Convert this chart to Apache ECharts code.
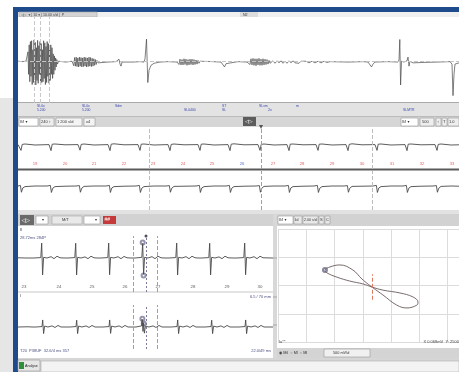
<!DOCTYPE html>
<html><head><meta charset="utf-8">
<script src="https://cdn.jsdelivr.net/npm/echarts@6/dist/echarts.min.js"></script>
<style>html,body{margin:0;padding:0;background:#fff}#c{width:459px;height:372px}</style>
</head><body><div id="c"></div>
<script>
// ---------- DATA ----------
// top overview trace: [sample, mV]
const topTrace = [[0,0.02],[4,0.01],[8,0.02],[9.5,0.0],
[10,0.25],[10.6,-0.3],[11.2,0.42],[11.8,-0.48],[12.4,0.5],[13,-0.35],[13.6,0.52],[14.2,-0.55],[14.8,0.3],[15.4,-0.5],[16,0.54],[16.6,-0.42],[17.2,0.48],[17.8,-0.56],[18.4,0.35],[19,-0.45],[19.6,0.53],[20.2,-0.52],[20.8,0.4],[21.4,-0.3],[22,0.5],[22.6,-0.55],[23.2,0.45],[23.8,-0.5],[24.4,0.3],[25,-0.48],[25.6,0.52],[26.2,-0.4],[26.8,0.47],[27.4,-0.55],[28,0.38],[28.6,-0.5],[29.2,0.5],[29.8,-0.35],[30.4,0.45],[31,-0.52],[31.6,0.3],[32.2,-0.45],[32.8,0.42],[33.4,-0.3],[34,0.35],[34.6,-0.4],[35.2,0.2],[35.8,-0.3],[36.4,0.15],[37,-0.2],[37.6,0.1],[38.2,-0.12],[38.8,0.06],[39.5,-0.05],[40.5,0.02],
[42,0.01],[48,0.0],[54,0.02],
[55,0.06],[55.8,-0.09],[56.6,0.11],[57.4,-0.1],[58.2,0.12],[59,-0.11],[59.8,0.1],[60.6,-0.12],[61.4,0.12],[62.2,-0.1],[63,0.11],[63.8,-0.12],[64.6,0.1],[65.4,-0.11],[66.2,0.12],[67,-0.1],[67.8,0.11],[68.6,-0.12],[69.4,0.1],[70.2,-0.11],[71,0.12],[71.8,-0.1],[72.6,0.11],[73.4,-0.11],[74.2,0.09],[75,-0.1],[75.8,0.08],[76.6,-0.08],[77.4,0.06],[78.2,-0.06],[79,0.04],[80,-0.02],
[81,0.01],[90,0.0],[98,0.01],[100,0.04],[101,0.07],[102,-0.05],[103,-0.1],[104,0.0],[106,0.01],[115,0.0],[122,0.01],[126,0.0],
[127,0.08],[128.5,0.56],[129.8,-0.5],[131,-0.2],[133,-0.08],[136,-0.03],[142,0.0],[150,0.01],[159,0.0],
[160,0.04],[161,-0.06],[162,0.07],[163,-0.07],[164,0.06],[165,-0.07],[166,0.08],[167,-0.06],[168,0.07],[169,-0.08],[170,0.06],[171,-0.07],[172,0.07],[173,-0.06],[174,0.07],[175,-0.07],[176,0.06],[177,-0.06],[178,0.05],[179,-0.05],[180,0.04],[181,-0.03],[182,0.02],
[184,0.0],[195,0.01],[203,0.0],[205,-0.03],[206.5,-0.12],[208,-0.04],[210,0.0],[220,0.01],[229,0.0],
[231,0.04],[232,-0.06],[233,0.08],[234,-0.07],[235,0.09],[236,-0.08],[237,0.08],[238,-0.09],[239,0.08],[240,-0.07],[241,0.09],[242,-0.08],[243,0.07],[244,-0.08],[245,0.08],[246,-0.07],[247,0.07],[248,-0.06],[249,0.06],[250,-0.05],[251,0.04],[252,-0.03],
[255,0.03],[257,-0.03],[259,0.03],[261,-0.02],[263,0.03],[265,-0.03],[267,0.02],[269,-0.03],[271,0.03],[273,-0.02],[275,0.03],[277,-0.02],[279,0.02],[281,-0.03],[283,0.02],[285,-0.02],[288,0.02],[291,-0.02],[294,0.02],[297,-0.02],[300,0.02],[303,-0.02],[306,0.02],[309,-0.01],[312,0.01],
[330,0.0],[345,0.01],[350,0.0],[352,-0.04],[353.5,-0.12],[355,-0.05],[357,0.0],[370,0.01],[380,0.0],
[381,0.05],[381.8,0.55],[382.6,-0.56],[383.5,0.02],[386,0.0],[389,0.03],[390,0.12],[391,-0.1],[392,0.02],[395,-0.02],[405,-0.01],[420,0.0],[432,0.01],[434,-0.05],[435,-0.82],[436,-0.3],[437,-0.05],[441,-0.02]];
const topCursors = [16, 22, 31];

// middle panel, two leads
const midTrace1 = [[0,0.02],[1,0.1],[2,0.12],[3,-0.27],[4.2,0.03],[7,0.05],[17,0.0],
[31,0.02],[32.2,0.11],[33,-0.28],[34.2,0.04],[37,0.05],[47,0.01],
[60,0.02],[61.2,0.12],[62,-0.26],[63.2,0.03],[66,0.05],[76,0.0],
[90,0.02],[91.2,0.12],[92,-0.28],[93.2,0.04],[96,0.06],[106,0.01],
[120,0.02],[121.2,0.11],[122,-0.27],[123.2,0.04],[126,0.05],[136,0.0],
[150,0.02],[151.2,0.12],[152,-0.28],[153.2,0.03],[156,0.05],[166,0.01],
[180,0.02],[181.2,0.12],[182,-0.27],[183.2,0.04],[186,0.05],[196,0.0],
[210,0.02],[211.2,0.11],[212,-0.28],[213.2,0.04],[216,0.06],[226,0.01],
[240,0.02],[241.2,0.12],[242,-0.27],[243.2,0.03],[246,0.05],[256,0.0],
[269,0.02],[270.2,0.12],[271,-0.28],[272.2,0.04],[275,0.05],[285,0.01],
[298,0.02],[299.2,0.11],[300,-0.27],[301.2,0.04],[304,0.05],[314,0.0],
[328,0.02],[329.2,0.12],[330,-0.28],[331.2,0.03],[334,0.06],[344,0.01],
[357,0.02],[358.2,0.12],[359,-0.27],[360.2,0.04],[363,0.05],[373,0.0],
[387,0.02],[388.2,0.11],[389,-0.28],[390.2,0.04],[393,0.05],[403,0.01],
[417,0.02],[418.2,0.12],[419,-0.27],[420.2,0.03],[423,0.05],[433,0.0],[441,0.01]];
const midTrace2 = [[0,0.03],[2.4,0.06],[3.4,-0.29],[4.8,-0.07],[7,0.0],[17,0.03],
[29,0.03],[32.4,0.06],[33.4,-0.3],[34.8,-0.08],[37,0.0],[47,0.02],
[58,0.03],[61.4,0.05],[62.4,-0.29],[63.8,-0.08],[66,0.01],[76,0.03],
[88,0.03],[91.4,0.06],[92.4,-0.3],[93.8,-0.07],[96,0.0],[106,0.02],
[118,0.03],[121.4,0.06],[122.4,-0.3],[123.8,-0.08],[126,0.0],[136,0.03],
[148,0.03],[151.4,0.05],[152.4,-0.29],[153.8,-0.08],[156,0.01],[166,0.02],
[178,0.03],[181.4,0.06],[182.4,-0.3],[183.8,-0.07],[186,0.0],[196,0.03],
[208,0.03],[211.4,0.06],[212.4,-0.3],[213.8,-0.08],[216,0.0],[226,0.02],
[238,0.03],[241.4,0.05],[242.4,-0.29],[243.8,-0.08],[246,0.01],[256,0.03],
[267,0.03],[270.4,0.06],[271.4,-0.3],[272.8,-0.07],[275,0.0],[285,0.02],
[296,0.03],[299.4,0.06],[300.4,-0.3],[301.8,-0.08],[304,0.0],[314,0.03],
[326,0.03],[329.4,0.05],[330.4,-0.29],[331.8,-0.08],[334,0.01],[344,0.02],
[355,0.03],[358.4,0.06],[359.4,-0.3],[360.8,-0.07],[363,0.0],[373,0.03],
[385,0.03],[388.4,0.06],[389.4,-0.3],[390.8,-0.08],[393,0.0],[403,0.02],
[415,0.03],[418.4,0.05],[419.4,-0.29],[420.8,-0.08],[423,0.01],[433,0.03],[441,0.02]];
const midBeatNumbers = [19,20,21,22,23,24,25,26,27,28,29,30,31,32,33];
const midBeatNumberX = [17,47,76,106,135,165,194,224,255,284,314,344,374,404,434];
const midSelectedBeat = 26;
const midCursorsGray = [131, 354];
const midCursorsRed = [243];

// bottom-left zoomed panel, two leads
const botTrace1 = [[0,0.01],[8,0.0],[12,0.0],[14,0.07],[16,0.0],[22.8,0.02],[23.7,0.68],[24.6,-0.77],[25.6,0.03],[29,0.0],[33,0.06],[36,-0.03],[39,0.08],[42,0.01],
[46,0.0],[48,0.07],[50,0.0],[56.8,0.02],[57.7,0.67],[58.6,-0.77],[59.6,0.03],[63,0.0],[67,0.05],[70,-0.03],[73,0.08],[76,0.01],
[79,0.0],[81,0.07],[83,0.0],[89.8,0.02],[90.7,0.68],[91.6,-0.76],[92.6,0.03],[96,0.0],[100,0.06],[103,-0.03],[106,0.07],[109,0.01],
[113,0.0],[115,0.08],[117,0.0],[123.8,0.03],[124.7,0.66],[125.6,-0.74],[126.6,0.03],[130,0.0],[134,0.06],[137,-0.03],[140,0.08],[143,0.01],
[147,0.0],[149,0.07],[151,0.0],[157.8,0.02],[158.7,0.68],[159.6,-0.77],[160.6,0.03],[164,0.0],[168,0.06],[171,-0.03],[174,0.08],[177,0.01],
[180,0.0],[182,0.07],[184,0.0],[190.8,0.02],[191.7,0.67],[192.6,-0.77],[193.6,0.03],[197,0.0],[201,0.05],[204,-0.03],[207,0.08],[210,0.01],
[215,0.0],[217,0.07],[219,0.0],[225.8,0.02],[226.7,0.68],[227.6,-0.76],[228.6,0.03],[232,0.0],[236,0.06],[239,-0.03],[242,0.08],[245,0.01],[255,0.0]];
const botTrace2 = [[0,0.0],[10,0.01],[14,0.0],[16,0.06],[18,0.0],[24,0.02],[24.7,0.32],[25.6,-0.3],[26.6,0.04],[30,0.0],[34,0.05],[37,-0.02],[40,0.07],[43,0.0],
[48,0.0],[50,0.06],[52,0.0],[58,0.02],[58.7,0.31],[59.6,-0.3],[60.6,0.04],[64,0.0],[68,0.05],[71,-0.02],[74,0.07],[77,0.0],
[81,0.0],[83,0.06],[85,0.0],[91,0.02],[91.7,0.32],[92.6,-0.29],[93.6,0.04],[97,0.0],[101,0.05],[104,-0.02],[107,0.07],[110,0.0],
[114,0.0],[116,0.06],[118,0.0],[123.5,0.05],[124.2,0.35],[125,-0.2],[125.6,0.2],[126.4,-0.28],[127.4,0.04],[131,0.0],[135,0.05],[138,-0.02],[141,0.07],[144,0.0],
[149,0.0],[151,0.06],[153,0.0],[159,0.02],[159.7,0.32],[160.6,-0.3],[161.6,0.04],[165,0.0],[169,0.05],[172,-0.02],[175,0.07],[178,0.0],
[183,0.0],[185,0.06],[187,0.0],[193,0.02],[193.7,0.31],[194.6,-0.3],[195.6,0.04],[199,0.0],[203,0.05],[206,-0.02],[209,0.07],[212,0.0],
[217,0.0],[219,0.06],[221,0.0],[227,0.02],[227.7,0.32],[228.6,-0.3],[229.6,0.04],[233,0.0],[237,0.05],[240,-0.02],[243,0.07],[246,0.0],[255,0.0]];
const botMarks1 = [[124.7,0.7],[125.6,-0.8]];
const botMarks2 = [[124.4,0.38],[125.8,0.16]];
const botBeatNumbers = [23,24,25,26,27,28,29,30];
const botBeatNumberX = [6,41,74,107,140,175,209,242];
const botCursorsRed = [115, 139];
const botCursorDash = [128];

// vector loop (lead I vs lead II)
const loopX = [3.32,2.97,2.65,2.19,1.84,1.66,1.73,2.08,2.54,3.00,3.32,3.71,4.31,4.77,4.95,4.91,4.56,4.20,3.71,3.36,3.32];
const loopY = [1.95,2.23,2.55,2.73,2.66,2.55,2.45,2.30,2.16,2.06,1.95,1.84,1.74,1.60,1.42,1.31,1.21,1.31,1.67,1.92,1.95];
const loopCenterMark = [[3.32,1.5],[3.32,2.4]];

// ---------- CHART ----------
const FONT = '"Liberation Sans", "DejaVu Sans", sans-serif';
const TRACE = '#4a4a4a';
function R(x,y,w,h,fill,stroke,z){return {type:'rect',z:z==null?-10:z,shape:{x,y,width:w,height:h},style:{fill,stroke:stroke||null,lineWidth:stroke?0.6:0}};}
function T(x,y,s,size,fill,opt){return {type:'text',z:100,x,y,style:Object.assign({text:s,font:(size||5)+'px '+FONT,fill:fill||'#333',align:'left',verticalAlign:'middle'},opt||{})};}
function L(x1,y1,x2,y2,c,w){return {type:'line',z:-5,shape:{x1,y1,x2,y2},style:{stroke:c,lineWidth:w||1}};}

const BLUE='#1e4b8c', LBL='#3a46b0';
const graphic = [
  R(0,98,13,274,'#e6e6e6'),
  R(13,7,446,5,BLUE), R(13,7,5,365,BLUE),
  R(18,12,441,5,'#f0f0f0'), R(19,12,78,5,'#d4d4d4','#aaa'),
  T(21,14.6,'◁▷  ▾ | 10 ▾ | 10.00 s/d |  P',3.6,'#444'),
  R(240,12,18,5,'#dcdcdc'), T(243,14.6,'N2',3.6,'#333'),
  R(18,17,441,86,'#ffffff'), L(18,102.5,459,102.5,'#aaa',1),
  R(18,103,441,13,'#e3e3e3'),
  T(37,106.5,'SL0x',3.4,LBL), T(37,110.5,'5.200',3.4,LBL),
  T(82,106.5,'SL0x',3.4,LBL), T(82,110.5,'5.200',3.4,LBL),
  T(115,106,'Sdm',3.4,LBL), T(184,110,'SL0400',3.4,LBL),
  T(222,106.5,'ST',3.4,LBL), T(222,110.5,'SL',3.4,LBL),
  T(259,106,'SLvm',3.4,LBL), T(268,109.5,'2x',3.6,LBL), T(296,106,'m',3.6,LBL),
  T(403,110,'SLMTR',3.4,LBL),
  R(18,116,441,11,'#d6d6d6'), L(18,116.5,459,116.5,'#bbb',1),
  R(19,118,19,8,'#fff','#999',-9), T(20,122,'II/I ▾',4,'#333'),
  R(40,118,14,8,'#eee','#999',-9), T(41,122,'240 ↕',4,'#333'),
  R(56,118,26,8,'#f4f4f4','#999',-9), T(57,122,'1 200 s/d',4,'#333'),
  R(84,118,11,8,'#f4f4f4','#999',-9), T(86,122,'x4',4,'#333'),
  R(243,117,13,9,'#5c5c5c',null,-9), T(245,121.6,'◁▷',5,'#fff'),
  R(401,118,17,8,'#fff','#999',-9), T(402,122,'II/I ▾',4,'#333'),
  R(420,118,14,8,'#eee','#999',-9), T(422,122,'500',4,'#333'),
  R(436,118,5,8,'#eee','#999',-9), T(437,122,'↕',4,'#333'),
  R(442,118,5,8,'#eee','#999',-9), T(443,122,'T',4,'#333'),
  R(448,118,11,8,'#eee','#999',-9), T(449,122,'1.0',4,'#333'),
  R(18,127,441,83,'#ffffff'), R(18,168.5,441,2,'#5a5a5a',null,-4),
  R(18,210,441,4,'#e2e2e2'),
  R(18,214,255,12,'#d2d2d2'),
  R(20,215,14,10,'#6a6a6a',null,-9), T(21.5,220.2,'◁▷',5.5,'#fff'),
  R(36,216,12,8,'#fff','#999',-9), T(42,220,'▾',4,'#333'),
  R(52,216,30,8,'#e9e9e9','#aaa',-9), T(62,220,'M/T',4,'#333'),
  R(84,216,16,8,'#fff','#999',-9), T(95,220,'▾',4,'#333'),
  R(103,216,13,8,'#c43a3a',null,-9), T(104.5,220,'##',5,'#fff'),
  R(273,214,4,144,'#d8d8d8'),
  L(273,258,277,258,'#888',0.6), L(273,297,277,297,'#888',0.6), L(273,325,277,325,'#888',0.6),
  R(18,226,255,132,'#ffffff'), L(18,292,273,292,'#c8c8c8',1),
  T(20,230,'II',4,'#333'), T(20,238,'28.72ms 284P',4,'#4a5080'),
  T(20,296,'I',4,'#333'), T(271,297,'6.5 / 70 mm',4,'#4a5080',{align:'right'}),
  T(20,351,'T20  P38UF  32.6/4 ms 357',4,'#4a5080'), T(271,351,'22.0/49 ms',4,'#4a5080',{align:'right'}),
  R(277,214,182,12,'#d2d2d2'),
  R(278,216,15,8,'#fff','#999',-9), T(279,220,'II/I ▾',4,'#333'),
  R(294,216,8,8,'#e8e8e8','#999',-9), T(295,220,'Ы',4,'#333'),
  R(303,216,15,8,'#e8e8e8','#999',-9), T(304,220,'2.00 s/d',3.6,'#333'),
  R(319,216,5,8,'#e8e8e8','#999',-9), T(320,220,'S',4,'#333'),
  R(325,216,5,8,'#e8e8e8','#999',-9), T(326,220,'C',4,'#333'),
  R(277,226,182,122,'#ffffff'),
  T(279,342,'Ia**',4,'#444'), T(459,342,'X 0.068mV  Y: 2500',4,'#444',{align:'right'}),
  R(277,348,182,10,'#d4d4d4'),
  T(279,353,'◉ Mil  ○ Ml  ○ MI',3.8,'#333'),
  R(324,349,46,8,'#f0f0f0','#999',-9), T(333,353,'500 mV/d',3.8,'#333'),
  R(18,358,441,14,'#d6d6d6'),
  R(18,360,22,11,'#e6e6e6','#999',-9), R(19,362,5,7,'#2f8f3a',null,-8), T(25,365.5,'Analyse',3.6,'#222'),
  R(41,361,418,11,'#f3f3f3','#b0b0b0',-9)
];

function hx(gi,min,max){return {type:'value',gridIndex:gi,min,max,show:false};}

const midLabelData = midBeatNumbers.map((n,i)=>({value:[midBeatNumberX[i],-0.95],name:String(n),
  label:{color:n===midSelectedBeat?'#2a48b8':'#d94040'}}));
const botLabelData = botBeatNumbers.map((n,i)=>({value:[botBeatNumberX[i],-1.32],name:String(n)}));

const option = {
  backgroundColor:'#ffffff',
  animation:false,
  graphic:{elements:graphic},
  grid:[
    {left:18,top:17,width:441,height:86},
    {left:18,top:127,width:441,height:42},
    {left:18,top:171,width:441,height:39},
    {left:18,top:236,width:255,height:56},
    {left:18,top:305,width:255,height:44},
    {left:278,top:229,width:181.1,height:113.2}
  ],
  xAxis:[hx(0,0,441),hx(1,0,441),hx(2,0,441),hx(3,0,255),hx(4,0,255),
    {type:'value',gridIndex:5,min:0,max:6.4,interval:1,axisLine:{show:false},axisTick:{show:false},axisLabel:{show:false},
     splitLine:{show:true,lineStyle:{color:'#dcdcdc',width:1}}}],
  yAxis:[hx(0,-1,1.1),hx(1,-1.2,0.9),hx(2,-1.2,0.8),hx(3,-1.545,1),hx(4,-1,1),
    {type:'value',gridIndex:5,min:0,max:4,interval:1,axisLine:{show:false},axisTick:{show:false},axisLabel:{show:false},
     splitLine:{show:true,lineStyle:{color:'#dcdcdc',width:1}}}],
  series:[
    {type:'line',xAxisIndex:0,yAxisIndex:0,data:topTrace,symbol:'none',lineStyle:{color:'#484848',width:0.7},
      markLine:{silent:true,symbol:'none',label:{show:false},animation:false,
        data:[{yAxis:0.03,lineStyle:{color:'#c4c4c4',width:1}}].concat(topCursors.map(v=>({xAxis:v,lineStyle:{color:'#c8c8c8',width:1}})))}},
    {type:'line',xAxisIndex:1,yAxisIndex:1,data:midTrace1,symbol:'none',lineStyle:{color:TRACE,width:0.9},
      markLine:{silent:true,symbol:'none',label:{show:false},animation:false,
        data:midCursorsGray.map(v=>({xAxis:v,lineStyle:{color:'#bdbdbd',width:1}})).concat(midCursorsRed.map(v=>({xAxis:v,lineStyle:{color:'#e8837a',width:1}})))}},
    {type:'line',xAxisIndex:2,yAxisIndex:2,data:midTrace2,symbol:'none',lineStyle:{color:TRACE,width:0.9},
      markLine:{silent:true,symbol:'none',label:{show:false},animation:false,
        data:midCursorsGray.map(v=>({xAxis:v,lineStyle:{color:'#bdbdbd',width:1}})).concat(midCursorsRed.map(v=>({xAxis:v,lineStyle:{color:'#e8837a',width:1}})))}},
    {type:'scatter',xAxisIndex:1,yAxisIndex:1,data:midLabelData,symbolSize:0,silent:true,
      label:{show:true,position:'inside',formatter:p=>p.name,fontSize:4.2,fontFamily:FONT}},
    {type:'scatter',xAxisIndex:1,yAxisIndex:1,data:midCursorsRed.map(v=>[v,0.9]),symbol:'triangle',symbolRotate:180,symbolSize:4,
      itemStyle:{color:'#333'},silent:true},
    {type:'line',xAxisIndex:3,yAxisIndex:3,data:botTrace1,symbol:'none',lineStyle:{color:TRACE,width:0.9},
      markLine:{silent:true,symbol:'none',label:{show:false},animation:false,
        data:botCursorsRed.map(v=>({xAxis:v,lineStyle:{color:'#e8837a',width:1}})).concat(botCursorDash.map(v=>({xAxis:v,lineStyle:{color:'#7a7a9a',width:1,type:[2,2]}})))}},
    {type:'line',xAxisIndex:4,yAxisIndex:4,data:botTrace2,symbol:'none',lineStyle:{color:TRACE,width:0.9},
      markLine:{silent:true,symbol:'none',label:{show:false},animation:false,
        data:botCursorsRed.map(v=>({xAxis:v,lineStyle:{color:'#e8837a',width:1}})).concat(botCursorDash.map(v=>({xAxis:v,lineStyle:{color:'#7a7a9a',width:1,type:[2,2]}})))}},
    {type:'scatter',xAxisIndex:3,yAxisIndex:3,data:botMarks1,symbol:'emptyCircle',symbolSize:4,itemStyle:{color:'#7a7a9a',borderWidth:0.8},silent:true},
    {type:'scatter',xAxisIndex:4,yAxisIndex:4,data:botMarks2,symbol:'emptyCircle',symbolSize:4,itemStyle:{color:'#7a7a9a',borderWidth:0.8},silent:true},
    {type:'scatter',xAxisIndex:3,yAxisIndex:3,data:botCursorDash.map(v=>[v,1]),symbol:'circle',symbolSize:3,itemStyle:{color:'#223'},silent:true},
    {type:'scatter',xAxisIndex:3,yAxisIndex:3,data:botLabelData,symbolSize:0,silent:true,
      label:{show:true,position:'inside',formatter:p=>p.name,fontSize:4.4,color:'#333',fontFamily:FONT}},
    {type:'line',xAxisIndex:5,yAxisIndex:5,data:loopX.map((x,i)=>[x,loopY[i]]),symbol:'none',smooth:0.4,
      lineStyle:{color:'#6a5a5a',width:0.9},
      markLine:{silent:true,symbol:'none',label:{show:false},animation:false,
        data:[[{coord:loopCenterMark[0]},{coord:loopCenterMark[1]}]],lineStyle:{color:'#e07a60',width:1}}},
    {type:'scatter',xAxisIndex:5,yAxisIndex:5,data:[[loopX[5],loopY[5]]],symbol:'emptyCircle',symbolSize:4,
      itemStyle:{color:'#6a6a8a',borderWidth:0.8},silent:true}
  ]
};
const chart = echarts.init(document.getElementById('c'),null,{renderer:'canvas'});
chart.setOption(option);
</script>
</body></html>
